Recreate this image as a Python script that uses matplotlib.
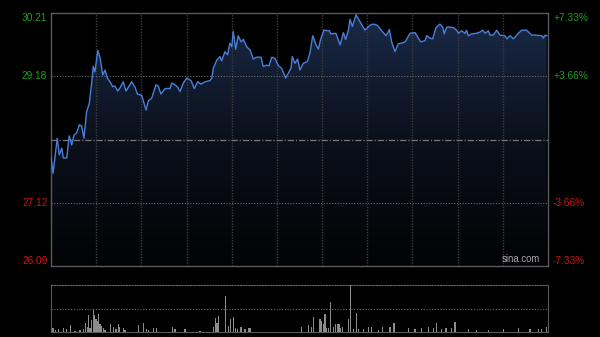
import numpy as np
import matplotlib
matplotlib.use('Agg')
import matplotlib.pyplot as plt
from matplotlib.colors import LinearSegmentedColormap

# 分时数据 (分钟序号, 价格)
t_price = [0, 1, 3, 4, 5.2, 5.9, 7.6, 8.8, 10, 11.1, 12.4, 13.7, 14.8, 15.9, 17.2, 18.5,
           19.7, 20.4, 21.2, 22.6, 23.7, 25, 26.1, 27.2, 28.5, 29.8, 30.9, 32.2, 33.3, 34.9,
           36.2, 37.3, 39, 40.6, 41.7, 43.8, 45.9, 47, 48.6, 50.7, 51.8, 53.1, 55.1, 57.5,
           58.3, 59.9, 61.2, 62.3, 63.9, 65.5, 67.6, 69.2, 70.8, 72.4, 74.4, 76.8, 77.6, 78.4,
           80, 81.6, 82.4, 84, 85.3, 86.4, 87.3, 88, 89.2, 90.4, 91.8, 92.9, 94.5, 96.1, 97.7,
           99.3, 101.4, 102.5, 104.2, 105.3, 106.6, 108.2, 109.8, 111.4, 113.3, 114.6, 115.9,
           116.5, 117.8, 119.1, 120.2, 121.8, 123.8, 125.1, 126.4, 128, 129.1, 130.2, 131.8,
           134.4, 135.1, 137.6, 139.6, 141.2, 142.3, 143.6, 144.4, 145.5, 147.3, 149.2, 151.6,
           154, 155.6, 157.6, 159.7, 161.8, 163.4, 164.5, 166.1, 167.7, 169.4, 171, 173.4,
           175.8, 178.5, 180.6, 181.4, 183, 184.3, 185.9, 187.8, 189.2, 189.9, 191.1, 192.7,
           194.3, 195.9, 196.7, 198.3, 199.9, 200.7, 201.5, 203.2, 205.6, 207.2, 208.5, 209.6,
           211.2, 212, 213.6, 215.2, 216.8, 219.2, 220.1, 221.7, 223.3, 225.7, 227.3, 229.7,
           232.1, 233.7, 237, 237.7, 238.6, 239.4]
price = [27.87, 27.60, 28.17, 27.90, 28.01, 27.85, 27.85, 28.21, 28.06, 28.22, 28.26, 28.39,
         28.37, 28.17, 28.60, 28.74, 29.09, 29.34, 29.25, 29.60, 29.48, 29.20, 29.28, 29.15,
         29.09, 29.01, 29.02, 28.94, 28.99, 29.09, 28.94, 29.00, 29.09, 29.00, 28.89, 28.87,
         28.63, 28.78, 28.82, 29.04, 29.02, 28.89, 28.98, 28.98, 29.07, 29.04, 29.00, 28.93,
         29.07, 29.15, 29.11, 28.98, 29.09, 29.05, 29.09, 29.11, 29.15, 29.31, 29.44, 29.50,
         29.43, 29.58, 29.53, 29.72, 29.66, 29.91, 29.62, 29.84, 29.74, 29.78, 29.66, 29.61,
         29.46, 29.49, 29.49, 29.34, 29.36, 29.35, 29.49, 29.47, 29.35, 29.31, 29.15, 29.23,
         29.31, 29.50, 29.39, 29.46, 29.28, 29.39, 29.42, 29.57, 29.84, 29.69, 29.62, 29.78,
         29.93, 29.92, 29.87, 29.88, 29.69, 29.89, 29.78, 29.93, 30.11, 29.99, 30.18, 30.07,
         29.93, 30.01, 30.03, 30.01, 29.92, 29.84, 29.94, 29.74, 29.58, 29.71, 29.72, 29.74,
         29.88, 29.89, 29.74, 29.76, 29.84, 29.80, 29.79, 29.97, 30.03, 29.98, 29.87, 29.98,
         29.98, 29.97, 29.93, 29.88, 29.92, 29.88, 29.93, 29.84, 29.87, 29.88, 29.90, 29.93,
         29.88, 29.92, 29.85, 29.85, 29.93, 29.85, 29.84, 29.79, 29.84, 29.79, 29.88, 29.93,
         29.93, 29.85, 29.85, 29.84, 29.80, 29.85, 29.84]

# 成交量 (分钟序号, 相对量)
t_vol = [1, 2, 3.5, 6, 7.5, 9.5, 11.6, 14, 15.6, 16.8, 17.5, 18.2, 18.8, 19.7, 20.4, 21.1,
         21.7, 22.4, 23, 23.7, 24.5, 25.3, 26.1, 28.8, 30.1, 31.4, 32.5, 33, 34.9, 35.7, 42.2,
         44.6, 46.2, 47, 49.4, 51, 58.8, 59.9, 64.7, 72, 78.4, 79.3, 80.2, 81, 84.2, 85.8,
         86.8, 88, 89, 90, 91.8, 93.7, 95.3, 96.1, 121.1, 124.3, 125.9, 126.7, 129.9, 130.7,
         131.5, 132.3, 133.1, 133.9, 134.9, 136.3, 137.5, 138.3, 139.1, 139.9, 140.9, 143.6,
         144.7, 146, 147.6, 148.4, 150.8, 153.2, 154.9, 158, 160.2, 163.7, 165.6, 172.5,
         175.8, 179, 182.2, 184.6, 186.3, 188.7, 190.7, 193.5, 195.1, 201.5, 205.6, 211.2,
         218.4, 225.7, 231.3, 235.3, 237, 239.4]
volume = [8, 4, 6, 9, 6, 15, 3, 4, 6, 20, 11, 36, 8, 26, 50, 36, 27, 24, 38, 17, 13, 8, 4,
          17, 11, 6, 16, 11, 8, 4, 15, 20, 6, 4, 8, 8, 10, 6, 6, 3, 10, 29, 20, 34, 77, 13,
          27, 31, 8, 6, 10, 6, 8, 8, 10, 15, 11, 31, 27, 24, 18, 38, 8, 8, 63, 10, 18, 18, 18,
          8, 10, 27, 100, 6, 40, 6, 6, 10, 10, 4, 11, 11, 20, 8, 6, 8, 10, 8, 20, 6, 8, 8, 21,
          6, 4, 4, 7, 9, 6, 6, 7, 10]

prev_close = 28.15
price_ticks = [30.21, 29.18, 27.12, 26.09]
pct_labels = ['+7.33%', '+3.66%', '-3.66%', '-7.33%']

plt.rcParams['font.family'] = ['Liberation Sans', 'DejaVu Sans']
fig = plt.figure(figsize=(6, 3.37), dpi=100, facecolor='black')
ax = fig.add_axes([51 / 600, 1 - 266 / 337, 497 / 600, 253 / 337])
axv = fig.add_axes([51 / 600, 1 - 332 / 337, 497 / 600, 47 / 337])

ymin, ymax = 26.09, 30.21
ax.set_facecolor('black')

# 渐变填充
cmap = LinearSegmentedColormap.from_list('fill', ['#020305', '#0b101b', '#1a2a48'])
poly = ax.fill_between(t_price, price, ymin, color='none', lw=0)
grad = ax.imshow(np.linspace(0, 1, 256).reshape(-1, 1), cmap=cmap, aspect='auto',
                 origin='lower', extent=[0, 240, ymin, ymax], zorder=1)
grad.set_clip_path(poly.get_paths()[0], transform=ax.transData)
ax.plot(t_price, price, color='#4a7fd8', lw=1.0, zorder=4)

# 网格
for k in range(1, 11):
    ax.axvline(240 * k / 11, color='#3c3c3c', lw=1, ls=(0, (1, 1)), zorder=3)
for v in [29.18, 27.12]:
    ax.axhline(v, color='#6a6a6a', lw=0.8, ls=(0, (1, 1.5)), zorder=3)
ax.axhline(prev_close, color='#7a7a7a', lw=0.9, ls=(0, (5, 1.5, 1, 1.5)), zorder=3)

ax.set_xlim(0, 240)
ax.set_ylim(ymin, ymax)
ax.set_xticks([])
ax.set_yticks([])
for s in ax.spines.values():
    s.set_color('#5a5a5a')
    s.set_linewidth(1)

# 坐标标签
colors = ['#1fa01f', '#1fa01f', '#d01414', '#d01414']
vas = ['top', 'center', 'center', 'bottom']
for v, lab, c, va in zip(price_ticks, pct_labels, colors, vas):
    ax.text(-3.8 / 497 * 240, v, f'{v:.2f}', color=c, fontsize=7.3, ha='right', va=va)
    ax.text(240 + 5 / 497 * 240, v, lab, color=c, fontsize=7.3, ha='left', va=va)
ax.text(236, 26.09 + 0.04, 'sina.com', color='#a8a8a8', fontsize=6.9, ha='right', va='bottom',
        zorder=5)

# 成交量
axv.set_facecolor('black')
axv.bar(t_vol, volume, width=0.6, color='#8c8c8c', lw=0)
axv.axhline(50, color='#6a6a6a', lw=0.8, ls=(0, (1, 1.5)))
axv.set_xlim(0, 240)
axv.set_ylim(0, 100)
axv.set_xticks([])
axv.set_yticks([])
for s in axv.spines.values():
    s.set_color('#5a5a5a')
axv.spines['top'].set_linestyle((0, (1, 1.5)))
axv.spines['top'].set_linewidth(0.8)
axv.spines['top'].set_color('#6a6a6a')

fig.savefig('out.png', dpi=100, facecolor='black')
